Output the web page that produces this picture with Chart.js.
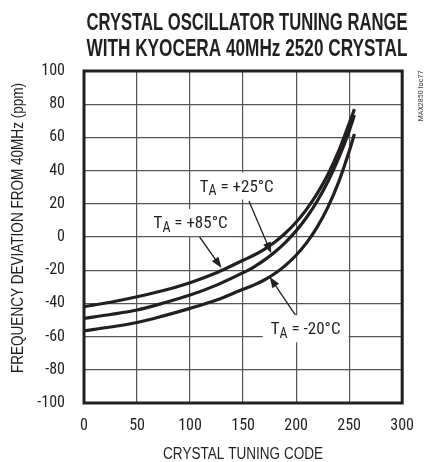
<!DOCTYPE html>
<html>
<head>
<meta charset="utf-8">
<script src="https://cdn.jsdelivr.net/npm/chart.js@4.4.0/dist/chart.umd.min.js"></script>
<style>
  html, body { margin: 0; padding: 0; background: #fff; }
  #wrap { width: 427px; height: 462px; }
</style>
</head>
<body>
<div id="wrap"><canvas id="chart" width="427" height="462"></canvas></div>
<script>
// crystal tuning code vs frequency deviation (ppm)
var codes  = [0, 25, 50, 75, 100, 125, 150, 160, 170, 180, 190, 200, 210, 220, 230, 240, 250, 255];
var dev85  = [-42, -39.3, -36, -32.2, -27.5, -21.5, -14, -11, -7.4, -3, 2.4, 8.9, 16.8, 26.3, 37.7, 51.6, 68.4, 77];
var dev25  = [-49, -46.7, -44, -39.8, -35, -29, -21.5, -18.1, -13.9, -9, -3.2, 3.7, 11.9, 21.7, 33.4, 47.3, 63.8, 73.5];
var devM20 = [-56.5, -54.2, -51.5, -47.5, -43, -38, -31.5, -29, -25.9, -22, -17.1, -11, -3.4, 6.1, 18, 32.9, 51.5, 62];

var xTicks = [0, 50, 100, 150, 200, 250, 300];
var yTicks = [-100, -80, -60, -40, -20, 0, 20, 40, 60, 80, 100];

var titleLines = ['CRYSTAL OSCILLATOR TUNING RANGE', 'WITH KYOCERA 40MHz 2520 CRYSTAL'];
var xTitle = 'CRYSTAL TUNING CODE';
var yTitle = 'FREQUENCY DEVIATION FROM 40MHz (ppm)';
var tocTag = 'MAX2850 toc77';

// curve labels (T sub A = ...), label centre and arrow in data units
var noteText  = ['+85°C', '+25°C', '-20°C'];
var noteAt    = [[100.5, 9], [144, 31], [209, -55]];
var arrowFrom = [[109, 0], [155.5, 21.7], [199.4, -47]];
var arrowTo   = [[129.7, -18.7], [176.6, -9.8], [175, -24]];

var FONT = "'Roboto Condensed', 'DejaVu Sans Condensed', 'Liberation Sans', sans-serif";
var INK = '#231f20';

function pts(vals) {
  return codes.map(function (c, i) { return {x: c, y: vals[i]}; });
}

function curve(vals) {
  return {
    data: pts(vals),
    borderColor: INK,
    borderWidth: 3.2,
    pointRadius: 0,
    fill: false,
    cubicInterpolationMode: 'monotone'
  };
}

// draw text squeezed horizontally to a given width (the original face is condensed)
function squashText(ctx, text, cx, base, font, width) {
  ctx.save();
  ctx.font = font;
  var w = ctx.measureText(text).width;
  ctx.translate(cx, base);
  ctx.scale(width / w, 1);
  ctx.textAlign = 'center';
  ctx.textBaseline = 'alphabetic';
  ctx.fillText(text, 0, 0);
  ctx.restore();
}

function drawArrow(ctx, x1, y1, x2, y2) {
  var a = Math.atan2(y2 - y1, x2 - x1);
  var len = 11, half = 4;
  ctx.beginPath();
  ctx.moveTo(x1, y1);
  ctx.lineTo(x2 - Math.cos(a) * len * 0.8, y2 - Math.sin(a) * len * 0.8);
  ctx.lineWidth = 1.3;
  ctx.stroke();
  ctx.beginPath();
  ctx.moveTo(x2, y2);
  ctx.lineTo(x2 - Math.cos(a) * len - Math.sin(a) * half, y2 - Math.sin(a) * len + Math.cos(a) * half);
  ctx.lineTo(x2 - Math.cos(a) * len + Math.sin(a) * half, y2 - Math.sin(a) * len - Math.cos(a) * half);
  ctx.closePath();
  ctx.fill();
}

function drawNote(ctx, cx, cy, label) {
  var big = '17px ' + FONT, small = '14px ' + FONT;
  var rest = ' = ' + label;
  ctx.font = big;
  var wT = ctx.measureText('T').width;
  var wR = ctx.measureText(rest).width;
  ctx.font = small;
  var wA = ctx.measureText('A').width;
  var w = wT + wA + wR;
  ctx.fillStyle = '#fff';
  ctx.fillRect(cx - w / 2 - 8, cy - 13, w + 16, 27);
  ctx.fillStyle = INK;
  ctx.textAlign = 'left';
  ctx.textBaseline = 'alphabetic';
  var x0 = cx - w / 2, base = cy + 6;
  ctx.font = big;
  ctx.fillText('T', x0, base);
  ctx.font = small;
  ctx.fillText('A', x0 + wT, base + 3.5);
  ctx.font = big;
  ctx.fillText(rest, x0 + wT + wA, base);
}

var decorations = {
  id: 'decorations',
  afterDatasetsDraw: function (chart) {
    var ctx = chart.ctx;
    var a = chart.chartArea;
    var xs = chart.scales.x, ys = chart.scales.y;
    ctx.save();
    ctx.strokeStyle = INK;
    ctx.fillStyle = INK;

    // arrows, then label boxes on top of the grid
    for (var i = 0; i < noteText.length; i++) {
      drawArrow(ctx,
        xs.getPixelForValue(arrowFrom[i][0]), ys.getPixelForValue(arrowFrom[i][1]),
        xs.getPixelForValue(arrowTo[i][0]), ys.getPixelForValue(arrowTo[i][1]));
    }
    for (var j = 0; j < noteText.length; j++) {
      drawNote(ctx, xs.getPixelForValue(noteAt[j][0]), ys.getPixelForValue(noteAt[j][1]), noteText[j]);
    }

    // heavy frame
    ctx.strokeStyle = INK;
    ctx.lineWidth = 3;
    ctx.strokeRect(a.left, a.top, a.right - a.left, a.bottom - a.top);

    // title
    ctx.fillStyle = INK;
    squashText(ctx, titleLines[0], 247, 29.5, 'bold 23px "Liberation Sans", sans-serif', 321);
    squashText(ctx, titleLines[1], 247, 56, 'bold 23px "Liberation Sans", sans-serif', 321);

    // axis titles
    var axisFont = '16px "Liberation Sans", sans-serif';
    squashText(ctx, xTitle, (a.left + a.right) / 2, 459, axisFont, 160);
    ctx.save();
    ctx.translate(23, 228);
    ctx.rotate(-Math.PI / 2);
    squashText(ctx, yTitle, 0, 0, axisFont, 290);
    ctx.restore();

    // figure tag on the right
    ctx.save();
    ctx.translate(421, 96);
    ctx.rotate(-Math.PI / 2);
    ctx.font = '8px ' + FONT;
    ctx.fillStyle = '#444';
    ctx.textAlign = 'center';
    ctx.textBaseline = 'middle';
    ctx.fillText(tocTag, 0, 0);
    ctx.restore();

    ctx.restore();
  }
};

new Chart(document.getElementById('chart'), {
  type: 'line',
  data: {
    datasets: [curve(dev85), curve(dev25), curve(devM20)]
  },
  options: {
    responsive: false,
    devicePixelRatio: 1,
    animation: false,
    layout: {padding: {top: 71, right: 13, left: 0, bottom: 0}},
    plugins: {legend: {display: false}, tooltip: {enabled: false}},
    scales: {
      x: {
        type: 'linear',
        min: 0,
        max: 300,
        afterBuildTicks: function (s) { s.ticks = xTicks.map(function (v) { return {value: v}; }); },
        afterFit: function (s) { s.height = 59; },
        grid: {color: '#555', lineWidth: 1.2, drawTicks: false},
        border: {display: false},
        ticks: {color: INK, padding: 13, maxRotation: 0, font: {family: FONT, size: 16}}
      },
      y: {
        type: 'linear',
        min: -100,
        max: 100,
        afterBuildTicks: function (s) { s.ticks = yTicks.map(function (v) { return {value: v}; }); },
        afterFit: function (s) { s.width = 84; },
        grid: {color: '#555', lineWidth: 1.2, drawTicks: false},
        border: {display: false},
        ticks: {color: INK, padding: 19, font: {family: FONT, size: 16}}
      }
    }
  },
  plugins: [decorations]
});
</script>
</body>
</html>
